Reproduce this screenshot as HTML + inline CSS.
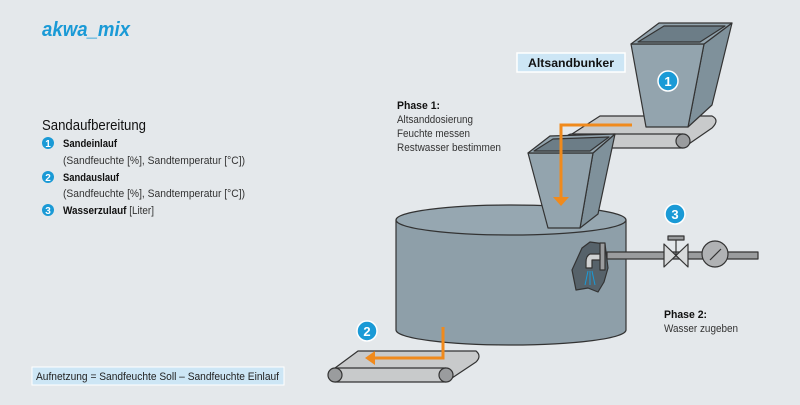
<!DOCTYPE html>
<html><head><meta charset="utf-8"><style>
body{margin:0;width:800px;height:400px;background:#e4e8eb;overflow:hidden;font-family:"Liberation Sans",sans-serif;}
</style></head><body>
<svg width="800" height="400" xmlns="http://www.w3.org/2000/svg" font-family="Liberation Sans, sans-serif">
<rect width="800" height="400" fill="#e4e8eb"/>
<text x="42" y="36" font-size="20" font-weight="bold" font-style="italic" fill="#1a9ad6" textLength="88" lengthAdjust="spacingAndGlyphs">akwa_mix</text>
<text x="42" y="130" font-size="15" fill="#111" textLength="104" lengthAdjust="spacingAndGlyphs">Sandaufbereitung</text>
<g font-size="11" fill="#333">
<circle cx="48" cy="143" r="6" fill="#1a9ad6"/><text x="48" y="147" font-size="10" font-weight="bold" fill="#fff" text-anchor="middle">1</text>
<text x="63" y="147" font-weight="bold" fill="#111" textLength="54" lengthAdjust="spacingAndGlyphs">Sandeinlauf</text>
<text x="63" y="164" textLength="182" lengthAdjust="spacingAndGlyphs">(Sandfeuchte [%], Sandtemperatur [°C])</text>
<circle cx="48" cy="177" r="6" fill="#1a9ad6"/><text x="48" y="181" font-size="10" font-weight="bold" fill="#fff" text-anchor="middle">2</text>
<text x="63" y="181" font-weight="bold" fill="#111" textLength="56" lengthAdjust="spacingAndGlyphs">Sandauslauf</text>
<text x="63" y="197" textLength="182" lengthAdjust="spacingAndGlyphs">(Sandfeuchte [%], Sandtemperatur [°C])</text>
<circle cx="48" cy="210" r="6" fill="#1a9ad6"/><text x="48" y="214" font-size="10" font-weight="bold" fill="#fff" text-anchor="middle">3</text>
<text x="63" y="214" textLength="91" lengthAdjust="spacingAndGlyphs"><tspan font-weight="bold" fill="#111">Wasserzulauf</tspan> [Liter]</text>
</g>
<rect x="32" y="367" width="252" height="18" fill="#cde6f5" stroke="#fff"/>
<text x="36" y="380" font-size="11" fill="#222" textLength="243" lengthAdjust="spacingAndGlyphs">Aufnetzung = Sandfeuchte Soll – Sandfeuchte Einlauf</text>
<g font-size="11" fill="#333">
<text x="397" y="109" font-weight="bold" fill="#111" textLength="43" lengthAdjust="spacingAndGlyphs">Phase 1:</text>
<text x="397" y="123" textLength="76" lengthAdjust="spacingAndGlyphs">Altsanddosierung</text>
<text x="397" y="137" textLength="73" lengthAdjust="spacingAndGlyphs">Feuchte messen</text>
<text x="397" y="151" textLength="104" lengthAdjust="spacingAndGlyphs">Restwasser bestimmen</text>
<text x="664" y="318" font-weight="bold" fill="#111" textLength="43" lengthAdjust="spacingAndGlyphs">Phase 2:</text>
<text x="664" y="332" textLength="74" lengthAdjust="spacingAndGlyphs">Wasser zugeben</text>
</g>
<rect x="517" y="53" width="108" height="19" fill="#cde6f5" stroke="#fff" stroke-width="1.5"/>
<text x="571" y="67" font-size="12" font-weight="bold" fill="#111" text-anchor="middle" textLength="86" lengthAdjust="spacingAndGlyphs">Altsandbunker</text>
<g stroke="#333" stroke-width="1.2" stroke-linejoin="round">
<path d="M396 220 L396 330 A115 15 0 0 0 626 330 L626 220 Z" fill="#8e9fa9"/>
<ellipse cx="511" cy="220" rx="115" ry="15" fill="#96a7b1"/>
<path d="M572 134 L600 116 L712 116 Q720 120 712 128 L683 148 L572 148 Z" fill="#c8cacb"/>
<line x1="572" y1="134" x2="683" y2="134"/>
<circle cx="572" cy="141" r="7" fill="#9a9c9e"/>
<circle cx="683" cy="141" r="7" fill="#9a9c9e"/>
<path d="M704 44 L732 23 L712 105 L688 127 Z" fill="#7f919b"/>
<path d="M631 44 L704 44 L688 127 L646 127 Z" fill="#93a4ae"/>
<path d="M631 44 L659 23 L732 23 L704 44 Z" fill="#93a4ae"/>
<path d="M638 42 L664 26 L725 26 L700 42 Z" fill="#6c7d87"/>
<path d="M593 153 L615 134 L598 214 L580 228 Z" fill="#7f919b"/>
<path d="M528 153 L593 153 L580 228 L548 228 Z" fill="#93a4ae"/>
<path d="M528 153 L550 136 L615 134 L593 153 Z" fill="#93a4ae"/>
<path d="M534 151 L553 139 L609 137 L590 151 Z" fill="#6c7d87"/>
<path d="M335 368 L358 351 L476 351 Q482 356 476 362 L446 382 L335 382 Z" fill="#c8cacb"/>
<line x1="335" y1="368" x2="446" y2="368"/>
<circle cx="335" cy="375" r="7" fill="#9a9c9e"/>
<circle cx="446" cy="375" r="7" fill="#9a9c9e"/>
<rect x="607" y="252" width="151" height="7" fill="#9a9c9e"/>
<path d="M664 244 L688 267 L688 244 L664 267 Z" fill="#d8dadb"/>
<line x1="676" y1="256" x2="676" y2="240"/>
<rect x="668" y="236" width="16" height="4" fill="#9a9c9e"/>
<circle cx="715" cy="254" r="13" fill="#b0b2b4"/>
<line x1="710" y1="260" x2="721" y2="249"/>
<path d="M582 248 L590 242 L605 244 L608 268 L604 282 L598 292 L588 288 L576 290 L572 270 Z" fill="#56626a"/>
<rect x="600" y="243" width="5" height="27" fill="#9a9c9e"/>
<path d="M600 254 L590 254 Q586 256 586 262 L586 268 L592 268 L592 260 L600 260 Z" fill="#d0d2d3"/>
</g>
<g stroke="#1a9ad6" stroke-width="1"><line x1="588" y1="271" x2="585" y2="285"/><line x1="590" y1="271" x2="590" y2="285"/><line x1="592" y1="271" x2="595" y2="285"/></g>
<g stroke="#f08a1c" stroke-width="3" fill="none">
<polyline points="632,125 561,125 561,198"/>
<polyline points="443,327 443,358 374,358"/>
</g>
<path d="M553 197 L569 197 L561 206 Z" fill="#f08a1c"/>
<path d="M375 351 L375 365 L365 358 Z" fill="#f08a1c"/>
<g font-weight="bold" font-size="13" fill="#fff" text-anchor="middle">
<circle cx="668" cy="81" r="10" fill="#1a9ad6" stroke="#fff" stroke-width="1.5"/><text x="668" y="86">1</text>
<circle cx="367" cy="331" r="10" fill="#1a9ad6" stroke="#fff" stroke-width="1.5"/><text x="367" y="336">2</text>
<circle cx="675" cy="214" r="10" fill="#1a9ad6" stroke="#fff" stroke-width="1.5"/><text x="675" y="219">3</text>
</g>
</svg>
</body></html>
